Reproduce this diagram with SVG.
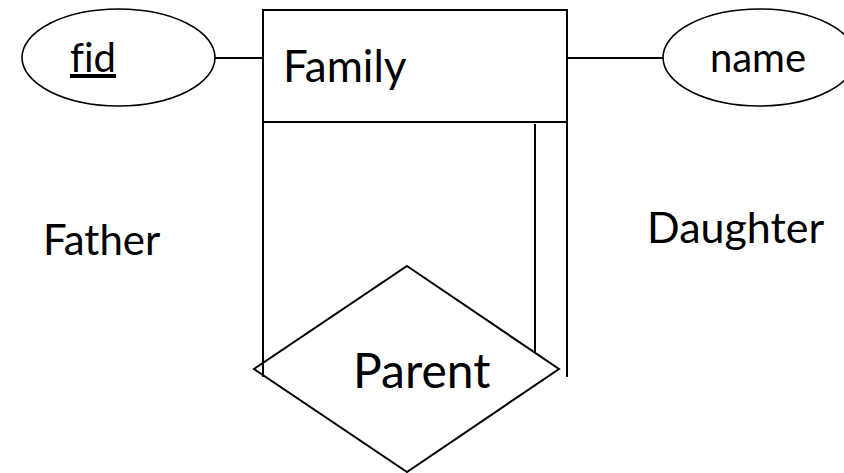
<svg xmlns="http://www.w3.org/2000/svg" width="844" height="473" viewBox="0 0 844 473">
<style>
.s{fill:none;stroke:#000;stroke-width:2}
.n{fill:#fff;stroke:#000;stroke-width:2}
.e{fill:#fff;stroke:#000;stroke-width:1.6}
text{font-family:Lato,"Open Sans","Liberation Sans",sans-serif;fill:#000;font-variant-ligatures:none;font-feature-settings:"liga" 0}
</style>
<rect width="844" height="473" fill="#fff"/>
<g id="connectors">
<line class="s" x1="215" y1="58" x2="263" y2="58"/>
<line class="s" x1="567" y1="58" x2="663" y2="58"/>
<line class="s" x1="263" y1="122" x2="263" y2="377"/>
<line class="s" x1="567" y1="122" x2="567" y2="377"/>
<line class="s" x1="535" y1="124" x2="535" y2="352"/>
</g>
<g id="fid">
<ellipse class="e" cx="118.5" cy="57.5" rx="96.5" ry="48.5"/>
<text x="70" y="72" font-size="40" text-decoration="underline">fid</text>
</g>
<g id="name">
<ellipse class="e" cx="759.5" cy="57.5" rx="96.5" ry="48.5"/>
<text x="758" y="72" font-size="40" text-anchor="middle">name</text>
</g>
<g id="Family">
<rect class="n" x="263" y="10" width="304" height="112"/>
<text x="283" y="82" font-size="44">Family</text>
</g>
<g id="Parent">
<polygon class="s" points="407,266 559,369 407,472 254,369"/>
<text x="353" y="388" font-size="48">Parent</text>
</g>
<g id="Father">
<text x="43" y="255" font-size="42">Father</text>
</g>
<g id="Daughter">
<text x="647" y="243" font-size="43">Daughter</text>
</g>
</svg>
